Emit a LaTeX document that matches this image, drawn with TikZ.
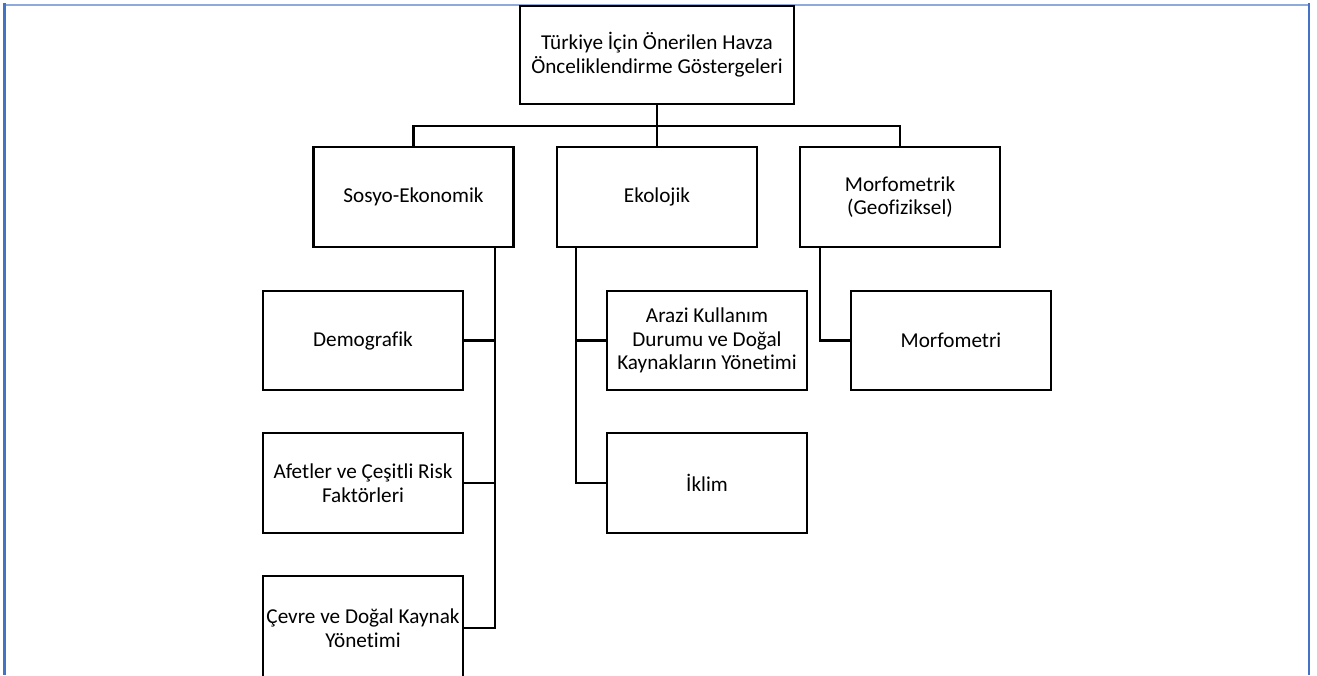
\documentclass[tikz,border=0pt]{standalone}
\usepackage{fontspec}
\setmainfont{Carlito}[Ligatures=NoCommon]
\definecolor{pageblue}{RGB}{68,114,196}
\definecolor{pagelight}{RGB}{142,170,219}
\tikzset{
    box/.style={draw=black, line width=1.6pt, fill=white, align=center,
        minimum width=150pt, minimum height=74.5pt, inner sep=2pt,
        font=\fontsize{15.9}{17.8}\selectfont},
    topbox/.style={box, minimum width=205.5pt, minimum height=73.5pt},
    link/.style={draw=black, line width=1.6pt}
}
\begin{document}
\begin{tikzpicture}[x=0.75pt,y=-0.75pt]
            \clip (0,0) rectangle (1317,675);
            \fill[white] (0,0) rectangle (1317,675);

            \draw[pagelight, line width=0.9pt] (4.5,5) -- (1309,5);
            \draw[pageblue, line width=1.6pt] (4.5,3) -- (4.5,675);
            \draw[pageblue, line width=1.6pt] (1309,3) -- (1309,675);

            \node[topbox] (top) at (657,55) {Türkiye İçin Önerilen Havza\\Önceliklendirme Göstergeleri};

            \node[box] (sosyo) at (413.5,197) {Sosyo-Ekonomik};
            \node[box] (ekolojik) at (657,197) {Ekolojik};
            \node[box] (morfo) at (900,197) {Morfometrik\\(Geofiziksel)};

            \node[box] (demog) at (363,340.5) {Demografik};
            \node[box] (afet) at (363,483) {Afetler ve Çeşitli Risk\\Faktörleri};
            \node[box, minimum height=78pt] (cevre) at (363,628) {Çevre ve Doğal Kaynak\\Yönetimi};

            \node[box] (arazi) at (707,340.5) {Arazi Kullanım\\Durumu ve Doğal\\Kaynakların Yönetimi};
            \node[box] (iklim) at (707,483) {İklim};

            \node[box] (morfometri) at (951,340.5) {Morfometri};

            \coordinate (bus) at (657,126);
            \coordinate (strunk) at ([xshift=-15pt]sosyo.south east);
            \coordinate (etrunk) at ([xshift=15pt]ekolojik.south west);
            \coordinate (mtrunk) at ([xshift=15.5pt]morfo.south west);

            \draw[link] (top.south) -- (bus);
            \draw[link] (sosyo.north) |- (bus) -| (morfo.north);
            \draw[link] (bus) -- (ekolojik.north);

            \draw[link] (strunk) |- (cevre.east);
            \draw[link] (demog.east) -- (demog.east -| strunk);
            \draw[link] (afet.east) -- (afet.east -| strunk);

            \draw[link] (etrunk) |- (iklim.west);
            \draw[link] (arazi.west) -- (arazi.west -| etrunk);

            \draw[link] (mtrunk) |- (morfometri.west);
\end{tikzpicture}
\end{document}
